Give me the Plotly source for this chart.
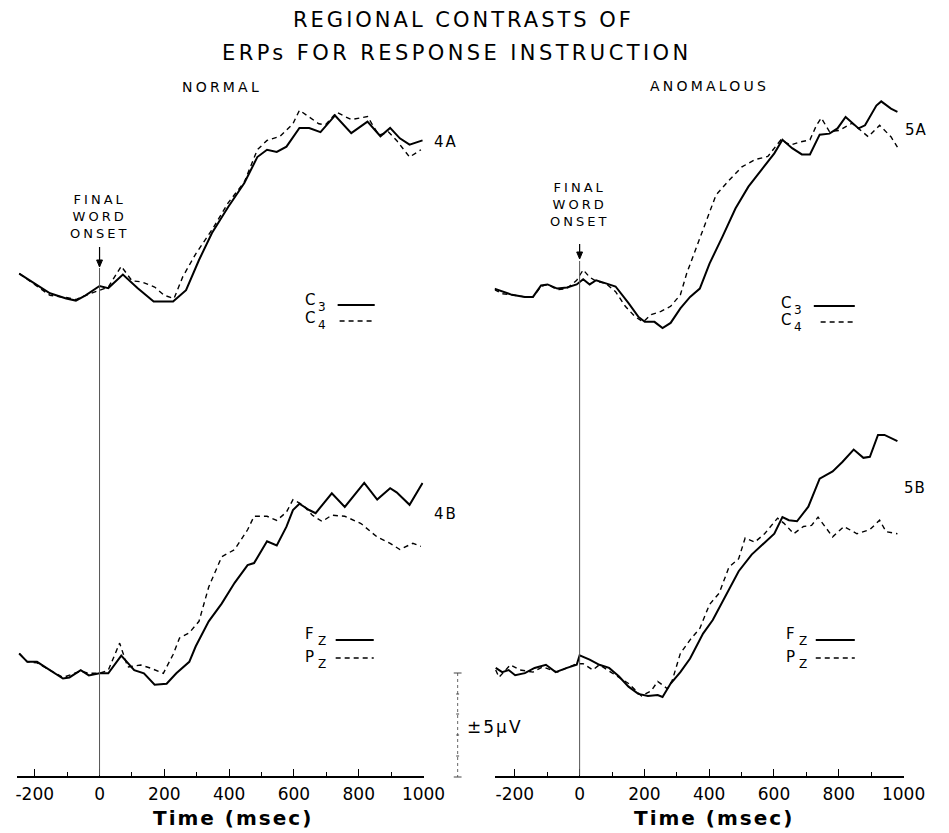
import plotly.graph_objects as go

# ---------------- data (time in ms, amplitude in µV relative to pre-stimulus level) ----------------
# Panel 4A  (NORMAL, C3 solid / C4 dashed)
t_4a_c3 = [-248, -203, -153, -103, -73, -43, 0, 27, 72, 117, 167, 227, 267, 307, 347, 397, 447, 487,
           517, 547, 577, 617, 647, 682, 727, 777, 827, 867, 897, 927, 957, 997]
v_4a_c3 = [1.9, 1.0, 0.0, -0.5, -0.7, -0.2, 0.7, 0.5, 1.8, 0.5, -0.8, -0.8, 0.3, 3.2, 5.8, 8.3, 10.6, 13.1,
           13.8, 13.6, 14.1, 15.9, 15.9, 15.5, 17.1, 15.4, 16.5, 15.1, 15.9, 14.9, 14.3, 14.7]
t_4a_c4 = [-248, -203, -153, -103, -73, -43, 0, 27, 67, 100, 130, 170, 200, 230, 257, 297, 347, 397, 447,
           487, 517, 557, 597, 617, 677, 697, 732, 777, 827, 862, 892, 917, 957, 992]
v_4a_c4 = [1.9, 0.9, -0.2, -0.4, -0.6, -0.2, 0.3, 0.6, 2.6, 1.2, 1.1, 0.6, -0.2, -0.5, 1.6, 3.8, 6.1, 8.7,
           10.7, 13.8, 14.7, 15.1, 16.3, 17.6, 16.3, 16.2, 17.4, 16.7, 17.0, 15.2, 15.5, 14.7, 13.1, 13.8]

# Panel 4B  (NORMAL, Fz solid / Pz dashed)
t_4b_fz = [-248, -223, -193, -153, -113, -93, -58, -33, 0, 27, 67, 107, 137, 170, 207, 237, 277, 297, 337,
           377, 417, 457, 477, 517, 547, 577, 597, 617, 647, 667, 717, 757, 817, 857, 897, 917, 957, 997]
v_4b_fz = [1.9, 1.1, 1.1, 0.3, -0.5, -0.4, 0.3, -0.2, 0.0, 0.0, 1.7, 0.3, 0.0, -1.1, -1.0, 0.0, 1.1, 2.6,
           5.0, 6.7, 8.7, 10.4, 10.6, 12.7, 12.3, 14.1, 15.7, 16.3, 15.7, 15.4, 17.3, 16.0, 18.3, 16.7, 17.8,
           17.4, 16.2, 18.3]
t_4b_pz = [-248, -223, -193, -153, -113, -58, -33, 0, 27, 62, 87, 127, 157, 197, 227, 247, 277, 307, 337,
           377, 417, 457, 477, 517, 547, 577, 597, 627, 657, 687, 717, 757, 807, 857, 897, 927, 967, 992]
v_4b_pz = [1.9, 1.1, 1.0, 0.3, -0.4, 0.2, 0.0, 0.0, 0.3, 2.9, 0.6, 0.8, 0.5, 0.0, 1.8, 3.4, 3.9, 5.0, 8.3,
           11.2, 11.9, 13.8, 15.1, 15.1, 14.7, 15.5, 16.7, 16.2, 15.2, 14.6, 15.2, 15.1, 14.4, 13.1, 12.5,
           11.9, 12.5, 12.2]

# Panel 5A  (ANOMALOUS, C3 solid / C4 dashed)
t_5a_c3 = [-263, -239, -209, -169, -144, -119, -99, -69, -39, -9, 11, 31, 51, 81, 111, 151, 181, 201, 231,
           256, 281, 311, 341, 371, 401, 441, 481, 521, 561, 601, 626, 656, 686, 711, 741, 771, 796, 821,
           861, 881, 916, 931, 961, 981]
v_5a_c3 = [0.3, 0.0, -0.3, -0.5, -0.5, 0.6, 0.7, 0.3, 0.4, 0.7, 1.2, 0.7, 1.1, 0.8, 0.5, -1.1, -2.4, -2.9,
           -2.9, -3.5, -3.0, -1.6, -0.5, 0.3, 2.7, 5.3, 8.0, 10.1, 11.7, 13.3, 14.6, 13.8, 13.2, 13.2, 15.1,
           15.2, 15.7, 16.8, 15.7, 16.0, 17.9, 18.3, 17.6, 17.3]
t_5a_c4 = [-263, -239, -209, -169, -144, -119, -99, -69, -39, -9, 11, 31, 51, 81, 111, 141, 171, 196, 221,
           251, 281, 311, 331, 361, 391, 421, 461, 501, 541, 581, 621, 651, 681, 711, 731, 746, 771, 801,
           841, 871, 891, 926, 961, 981]
v_5a_c4 = [0.2, -0.2, -0.3, -0.5, -0.5, 0.5, 0.7, 0.2, 0.3, 1.1, 2.1, 1.4, 1.0, 0.8, 0.0, -1.4, -2.4, -2.9,
           -2.2, -1.9, -1.4, -0.3, 1.8, 4.3, 6.9, 9.3, 10.7, 12.0, 12.7, 13.0, 14.6, 14.1, 14.4, 14.6, 16.0,
           16.7, 15.4, 15.5, 16.2, 15.4, 14.9, 16.0, 14.9, 13.9]

# Panel 5B  (ANOMALOUS, Fz solid / Pz dashed)
t_5b_fz = [-259, -239, -219, -199, -169, -139, -104, -74, -39, -9, 0, 31, 61, 91, 121, 151, 181, 211, 241,
           256, 281, 311, 341, 381, 411, 451, 491, 531, 571, 601, 626, 646, 671, 706, 741, 781, 811, 846,
           876, 896, 921, 941, 981]
v_5b_fz = [0.2, -0.2, 0.0, -0.5, -0.3, 0.2, 0.5, -0.2, 0.2, 0.5, 1.4, 1.0, 0.5, 0.2, -0.6, -1.6, -2.3, -2.5,
           -2.4, -2.6, -1.3, -0.2, 1.1, 3.5, 4.8, 7.1, 9.5, 11.1, 12.2, 13.1, 14.7, 14.4, 14.3, 15.7, 18.4,
           19.1, 20.0, 21.2, 20.4, 20.5, 22.6, 22.6, 22.0]
t_5b_pz = [-259, -249, -234, -214, -184, -144, -114, -69, -39, -9, 11, 41, 61, 101, 151, 191, 221, 241, 271,
           286, 311, 341, 371, 401, 431, 461, 491, 511, 541, 571, 611, 631, 661, 691, 716, 736, 781, 816,
           856, 896, 926, 946, 981]
v_5b_pz = [0.0, -0.7, -0.2, 0.5, 0.0, -0.2, 0.3, -0.2, 0.2, 0.6, 0.6, 0.0, 0.5, -0.3, -1.3, -2.5, -2.0, -1.1,
           -1.8, -1.0, 1.6, 2.9, 4.0, 6.3, 7.4, 9.9, 10.7, 12.7, 12.3, 13.1, 14.6, 14.1, 13.1, 13.8, 13.9,
           14.7, 12.8, 13.8, 13.1, 13.5, 14.4, 13.3, 13.1]

tick_vals = [-200, 0, 200, 400, 600, 800, 1000]
tick_labels = ["-200", "0", "200", "400", "600", "800", "1000"]
minor_tick_vals = [-100, 100, 300, 500, 700, 900]

# ---------------- layout geometry (pixels of the 949x833 canvas) ----------------
W, H = 949, 833
AXIS_PX = 775.5
TOP_PX = 90
PX_PER_UV = 10.4
FONT = "DejaVu Sans"


def px(x):
    return x / W


def py(y):
    return 1 - y / H


def uv_at(ypix):
    return (AXIS_PX - ypix) / PX_PER_UV


panels = [
    # times, values, x-axis, y-axis, baseline pixel row, dashed?
    (t_4a_c3, v_4a_c3, "x", "y", 293.3, False),
    (t_4a_c4, v_4a_c4, "x", "y", 293.3, True),
    (t_4b_fz, v_4b_fz, "x", "y", 673.3, False),
    (t_4b_pz, v_4b_pz, "x", "y", 673.3, True),
    (t_5a_c3, v_5a_c3, "x2", "y2", 291.7, False),
    (t_5a_c4, v_5a_c4, "x2", "y2", 291.7, True),
    (t_5b_fz, v_5b_fz, "x2", "y2", 670.0, False),
    (t_5b_pz, v_5b_pz, "x2", "y2", 670.0, True),
]

fig = go.Figure()
for t, v, xa, ya, base_px, dashed in panels:
    off = uv_at(base_px)
    fig.add_trace(go.Scatter(
        x=t, y=[off + a for a in v], mode="lines", xaxis=xa, yaxis=ya,
        line=dict(color="black", width=1.4 if dashed else 2.0, dash="5px,4px" if dashed else "solid"),
        showlegend=False, hoverinfo="skip"))

axis_common = dict(
    showline=True, linecolor="black", linewidth=1.6, showgrid=False, zeroline=False,
    ticks="inside", ticklen=7, tickwidth=1.2, tickcolor="black",
    tickmode="array", tickvals=tick_vals, ticktext=tick_labels,
    tickfont=dict(family=FONT, size=17, color="black"), ticklabelstandoff=2,
    minor=dict(ticks="inside", ticklen=4, tickwidth=1, tickcolor="black",
               tickmode="array", tickvals=minor_tick_vals),
)
y_dom = [py(AXIS_PX), py(TOP_PX)]
y_common = dict(domain=y_dom, range=[0, uv_at(TOP_PX)], visible=False, fixedrange=True)

fig.update_layout(
    width=W, height=H, margin=dict(l=0, r=0, t=0, b=0),
    paper_bgcolor="white", plot_bgcolor="white",
    xaxis=dict(domain=[px(16), px(433)], range=[-256, 1000], anchor="y", **axis_common),
    xaxis2=dict(domain=[px(506), px(925)], range=[-262, 1000], anchor="y2", **axis_common),
    yaxis=dict(anchor="x", **y_common),
    yaxis2=dict(anchor="x2", **y_common),
)

shapes = []
# stimulus-onset lines
shapes.append(dict(type="line", xref="x", yref="y", x0=0, x1=0, y0=0, y1=uv_at(268),
                   line=dict(color="#555", width=1)))
shapes.append(dict(type="line", xref="x2", yref="y2", x0=0, x1=0, y0=0, y1=uv_at(261),
                   line=dict(color="#555", width=1)))


def arrow(xpix, ytop, ytip):
    shapes.append(dict(type="line", xref="paper", yref="paper", x0=px(xpix), x1=px(xpix),
                       y0=py(ytop), y1=py(ytip - 4), line=dict(color="black", width=1.2)))
    path = "M {:.5f},{:.5f} L {:.5f},{:.5f} L {:.5f},{:.5f} Z".format(
        px(xpix - 3), py(ytip - 7), px(xpix + 3), py(ytip - 7), px(xpix), py(ytip))
    shapes.append(dict(type="path", xref="paper", yref="paper", path=path,
                       fillcolor="black", line=dict(color="black", width=1)))


arrow(101, 247, 267)
arrow(593, 244, 259)


# legend line samples
def seg(x0, x1, y, dashed):
    shapes.append(dict(type="line", xref="paper", yref="paper", x0=px(x0), x1=px(x1), y0=py(y), y1=py(y),
                       line=dict(color="black", width=1.4 if dashed else 1.8,
                                 dash="5px,4px" if dashed else "solid")))


seg(345, 383, 305, False)
seg(347, 383, 321, True)
seg(343, 382, 640, False)
seg(343, 382, 658, True)
seg(833, 875, 306, False)
seg(840, 875, 322, True)
seg(835, 875, 640, False)
seg(835, 875, 658, True)

# calibration bar (±5 µV)
SB_X = 468
shapes.append(dict(type="line", xref="paper", yref="paper", x0=px(SB_X), x1=px(SB_X), y0=py(673), y1=py(777),
                   line=dict(color="#666", width=1, dash="dot")))
for yy, half in [(673, 4), (777, 4), (694, 1.5), (714, 1.5), (735, 1.5), (756, 1.5)]:
    shapes.append(dict(type="line", xref="paper", yref="paper", x0=px(SB_X - half), x1=px(SB_X + half),
                       y0=py(yy), y1=py(yy), line=dict(color="#444", width=1)))
fig.update_layout(shapes=shapes)


def text(x, y, s, size, bold=False, anchor="center", spacing=0):
    if spacing:
        s = '<span style="letter-spacing:{}px">{}</span>'.format(spacing, s)
    fig.add_annotation(x=px(x), y=py(y), xref="paper", yref="paper", text=s, showarrow=False,
                       xanchor=anchor, yanchor="middle",
                       font=dict(family=FONT, size=size, color="black", weight="bold" if bold else "normal"))


def electrode(x, y, letter, sub):
    text(x, y, letter, 15, anchor="left")
    text(x + 14, y + 7, sub, 12, anchor="left")


text(474, 20, "REGIONAL CONTRASTS OF", 21, spacing=3)
text(467, 53, "ERPs FOR RESPONSE INSTRUCTION", 21, spacing=3.4)
text(226, 87, "NORMAL", 14, spacing=3.2)
text(726, 86, "ANOMALOUS", 14, spacing=3.2)
text(101, 217, "FINAL<br>WORD<br>ONSET", 13, spacing=3)
text(593, 205, "FINAL<br>WORD<br>ONSET", 13, spacing=3)
text(456, 142, "4A", 15, spacing=2)
text(456, 514, "4B", 15, spacing=2)
text(938, 130, "5A", 15, spacing=1)
text(937, 488, "5B", 15, spacing=1)
electrode(309, 300, "C", "3")
electrode(309, 318, "C", "4")
electrode(797, 303, "C", "3")
electrode(797, 320, "C", "4")
electrode(309, 634, "F", "Z")
electrode(309, 657, "P", "Z")
electrode(802, 634, "F", "Z")
electrode(802, 657, "P", "Z")
text(506, 727, "±5μV", 17, spacing=2)
text(238, 818, "Time (msec)", 20, bold=True, spacing=2)
text(731, 818, "Time (msec)", 20, bold=True, spacing=2)

fig.write_html("out.html", config={"displayModeBar": False},
               post_script="document.body.style.margin='0';document.body.style.overflow='hidden';")
